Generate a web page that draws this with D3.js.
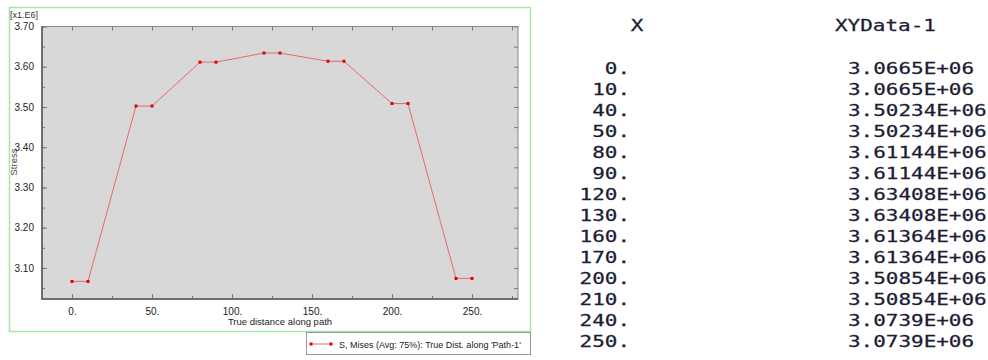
<!DOCTYPE html>
<html>
<head>
<meta charset="utf-8">
<script src="https://cdn.jsdelivr.net/npm/d3@7"></script>
<style>
  html, body { margin: 0; padding: 0; background: #fff; }
  svg text { font-family: "Liberation Sans", Arial, sans-serif; }
  .tbl { font-family: "DejaVu Sans Mono", monospace; font-size: 16px; fill: #1c1c34;
         stroke: #1c1c34; stroke-width: 0.25px; }
</style>
</head>
<body>
<svg id="chart" width="988" height="360"></svg>
<script>
const distance = [0, 10, 40, 50, 80, 90, 120, 130, 160, 170, 200, 210, 240, 250];
const stress = [3066500, 3066500, 3502340, 3502340, 3611440, 3611440, 3634080,
                3634080, 3613640, 3613640, 3508540, 3508540, 3073900, 3073900];
const xTicks = [0, 50, 100, 150, 200, 250];
const yTicks = [3.1, 3.2, 3.3, 3.4, 3.5, 3.6, 3.7];
const legendLabel = "S, Mises (Avg: 75%): True Dist. along 'Path-1'";
const tableHeaders = ["X", "XYData-1"];

const svg = d3.select("#chart");
const plot = { left: 42, top: 26.5, right: 518, bottom: 299 };

const x = d3.scaleLinear().domain([-18.75, 278.75]).range([plot.left, plot.right]);
const y = d3.scaleLinear().domain([3.0228, 3.70]).range([plot.bottom, plot.top]);

// outer green frame
svg.append("rect")
    .attr("x", 9.5).attr("y", 7.5).attr("width", 521).attr("height", 324)
    .attr("fill", "none").attr("stroke", "#a6e6a6").attr("stroke-width", 1.5);

svg.append("rect")
    .attr("x", plot.left).attr("y", plot.top)
    .attr("width", plot.right - plot.left).attr("height", plot.bottom - plot.top)
    .attr("fill", "#d8d8d8");

// ticks pointing inward on all four sides
const xMinor = d3.range(0, 279, 25);
const yMinor = d3.range(3.05, 3.701, 0.05);
const tickColor = "#7a7a7a";

svg.append("g")
    .attr("transform", `translate(0,${plot.bottom})`)
    .call(d3.axisBottom(x).tickValues(xMinor).tickSize(-3).tickFormat(""))
    .call(g => g.select(".domain").remove());
svg.append("g")
    .attr("transform", `translate(0,${plot.bottom})`)
    .call(d3.axisBottom(x).tickValues(xTicks).tickSize(-5).tickPadding(9)
        .tickFormat(d => d + "."))
    .call(g => g.select(".domain").remove());
svg.append("g")
    .attr("transform", `translate(0,${plot.top})`)
    .call(d3.axisTop(x).tickValues(xMinor).tickSize(-4).tickFormat(""))
    .call(g => g.select(".domain").remove());

svg.append("g")
    .attr("transform", `translate(${plot.left},0)`)
    .call(d3.axisLeft(y).tickValues(yMinor).tickSize(-3).tickFormat(""))
    .call(g => g.select(".domain").remove());
svg.append("g")
    .attr("transform", `translate(${plot.left},0)`)
    .call(d3.axisLeft(y).tickValues(yTicks).tickSize(-5).tickPadding(8)
        .tickFormat(d3.format(".2f")))
    .call(g => g.select(".domain").remove());
svg.append("g")
    .attr("transform", `translate(${plot.right},0)`)
    .call(d3.axisRight(y).tickValues(yMinor).tickSize(-4).tickFormat(""))
    .call(g => g.select(".domain").remove());

svg.selectAll(".tick line").attr("stroke", tickColor);
svg.selectAll(".tick text")
    .attr("fill", "#222").style("font-size", "10px")
    .style("font-family", "'Liberation Sans', Arial, sans-serif");

svg.append("rect")
    .attr("x", plot.left).attr("y", plot.top)
    .attr("width", plot.right - plot.left).attr("height", plot.bottom - plot.top)
    .attr("fill", "none").attr("stroke", "#8a8a8a").attr("stroke-width", 1);
svg.append("path")
    .attr("d", `M${plot.left},${plot.top}V${plot.bottom}H${plot.right}`)
    .attr("fill", "none").attr("stroke", "#555").attr("stroke-width", 1.5);

const pts = distance.map((d, i) => [d, stress[i] / 1e6]);

svg.append("path")
    .datum(pts)
    .attr("fill", "none").attr("stroke", "#e86a6a").attr("stroke-width", 1)
    .attr("d", d3.line().x(d => x(d[0])).y(d => y(d[1])));

svg.selectAll(".pt").data(pts).enter().append("rect")
    .attr("class", "pt")
    .attr("x", d => x(d[0]) - 1.5).attr("y", d => y(d[1]) - 1.5)
    .attr("width", 3).attr("height", 3)
    .attr("fill", "#e00000");

// labels
svg.append("text").attr("x", 10).attr("y", 18)
    .style("font-size", "9px").attr("fill", "#333").text("[x1.E6]");
svg.append("text")
    .attr("transform", "translate(17,162) rotate(-90)")
    .attr("text-anchor", "middle").style("font-size", "9.5px").attr("fill", "#444")
    .text("Stress");
svg.append("text").attr("x", 280).attr("y", 325)
    .attr("text-anchor", "middle").style("font-size", "9.5px").attr("fill", "#222")
    .text("True distance along path");

// legend
const lg = svg.append("g");
lg.append("rect").attr("x", 306.5).attr("y", 332.5).attr("width", 224).attr("height", 22)
    .attr("fill", "#fff").attr("stroke", "#999");
lg.append("line").attr("x1", 311).attr("x2", 331).attr("y1", 344).attr("y2", 344)
    .attr("stroke", "#e86a6a");
lg.selectAll(".lpt").data([311, 331]).enter().append("rect")
    .attr("x", d => d - 1.5).attr("y", 342.5).attr("width", 3).attr("height", 3)
    .attr("fill", "#e00000");
lg.append("text").attr("x", 339).attr("y", 347.5)
    .style("font-size", "9px").attr("fill", "#222").text(legendLabel);

// data table on the right, glyphs stretched wide like the source listing
const fmtX = d => d + ".";
const fmtY = v => (v / 1e6).toPrecision(6).replace(/0+$/, "") + "E+06";
const rowY = d3.scaleLinear().domain([0, distance.length - 1]).range([73.5, 347]);
const stretch = 1.31;

function cell(px, py, anchor, txt) {
    svg.append("text").attr("class", "tbl")
        .attr("transform", `translate(${px},${py}) scale(${stretch},1)`)
        .attr("text-anchor", anchor).text(txt);
}

cell(637, 31, "middle", tableHeaders[0]);
cell(835, 31, "start", tableHeaders[1]);
distance.forEach((d, i) => {
    cell(630, rowY(i), "end", fmtX(d));
    cell(848, rowY(i), "start", fmtY(stress[i]));
});
</script>
</body>
</html>
